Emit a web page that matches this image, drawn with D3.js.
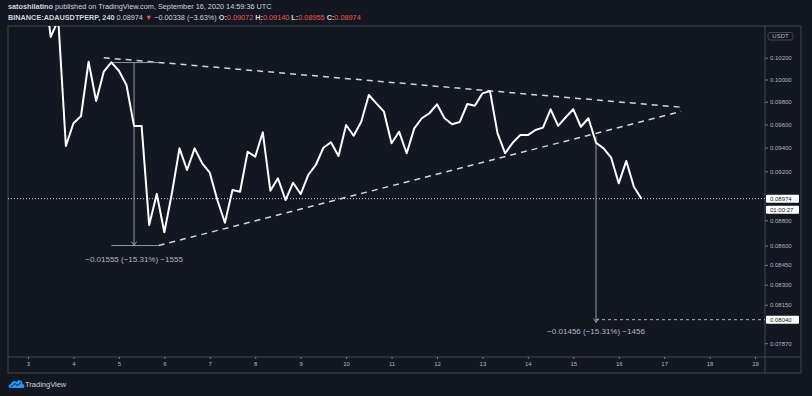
<!DOCTYPE html>
<html>
<head>
<meta charset="utf-8">
<script src="https://cdn.jsdelivr.net/npm/d3@7"></script>
<style>
  body { margin: 0; background: #131722; }
  text { font-family: "Liberation Sans", Arial, sans-serif; }
</style>
</head>
<body>
<div id="chart"></div>
<script>
// SVG area
let svgWidth = 812;
let svgHeight = 396;

// plot pane margins (right side holds the price axis)
let margin = { top: 26, right: 47, bottom: 39, left: 8 };
let width = svgWidth - margin.left - margin.right;
let height = svgHeight - margin.top - margin.bottom;

// 4h closes of BINANCE:ADAUSDTPERP, first candle Sept 3 08:00 UTC
let firstCandle = Date.UTC(2020, 8, 3, 8);
let closes = [
  0.1096, 0.10396, 0.10555, 0.09414, 0.09610, 0.09674, 0.10163, 0.09807,
  0.10071, 0.10157, 0.10080, 0.09950, 0.09587, 0.09587, 0.08762, 0.09012,
  0.08704, 0.09018, 0.09394, 0.09211, 0.09394, 0.09267, 0.09188, 0.08963,
  0.08780, 0.09045, 0.09031, 0.09365, 0.09323, 0.09532, 0.09039, 0.09142,
  0.08963, 0.09105, 0.09012, 0.09169, 0.09253, 0.09399, 0.09446, 0.09329,
  0.09595, 0.09502, 0.09624, 0.09860, 0.09786, 0.09712, 0.09437, 0.09537,
  0.09352, 0.09566, 0.09654, 0.09698, 0.09777, 0.09654, 0.09601, 0.09621,
  0.09780, 0.09765, 0.09875, 0.09896, 0.09523, 0.09352, 0.09442, 0.09508,
  0.09508, 0.09552, 0.09572, 0.09733, 0.09587, 0.09663, 0.09733, 0.09580,
  0.09654, 0.09442, 0.09394, 0.09314, 0.09100, 0.09287, 0.09072, 0.08974
];

// price axis tick values (the ones hidden under the boxes are left out)
let yTicks = [0.102, 0.100, 0.098, 0.096, 0.094, 0.092,
  0.088, 0.086, 0.0845, 0.083, 0.0815, 0.0787];

// triangle (dashed) drawn on the chart
let upperLine = [[Date.UTC(2020, 8, 4, 16), 0.10200], [Date.UTC(2020, 8, 17, 9), 0.09751]];
let lowerLine = [[Date.UTC(2020, 8, 5, 21), 0.08600], [Date.UTC(2020, 8, 17, 9), 0.09714]];

// price range measurements
let measure1 = { from: Date.UTC(2020, 8, 4, 20), to: Date.UTC(2020, 8, 5, 21), mid: Date.UTC(2020, 8, 5, 8),
  top: 0.10155, bottom: 0.08600, label: "\u22120.01555 (\u221215.31%) \u22121555" };
let measure2 = { mid: Date.UTC(2020, 8, 15, 12), top: 0.09496, bottom: 0.08040,
  label: "\u22120.01456 (\u221215.31%) \u22121456" };

let lastPrice = 0.08974;
let countdown = "01:00:27";

let svg = d3.select("#chart")
  .append("svg")
  .attr("width", svgWidth)
  .attr("height", svgHeight)
  .style("background", "#131722");

// header
let head1 = svg.append("text").attr("x", 8).attr("y", 9)
  .attr("font-size", "7.3px").attr("fill", "#d1d4dc");
head1.append("tspan").attr("font-weight", "bold").text("satoshilatino");
head1.append("tspan").text(" published on TradingView.com, September 16, 2020 14:59:36 UTC");

let head2 = svg.append("text").attr("x", 8).attr("y", 20)
  .attr("font-size", "7.3px").attr("fill", "#d1d4dc");
head2.append("tspan").attr("font-weight", "bold").text("BINANCE:ADAUSDTPERP, 240");
head2.append("tspan").text(" 0.08974 ");
head2.append("tspan").attr("fill", "#ef5350").text("\u25BC");
head2.append("tspan").text(" \u22120.00338 (\u22123.63%) ");
[["O:", "0.09072"], ["H:", "0.09140"], ["L:", "0.08955"], ["C:", "0.08974"]].forEach(function (p) {
  head2.append("tspan").attr("font-weight", "bold").text(p[0]);
  head2.append("tspan").attr("fill", "#ef5350").text(p[1] + " ");
});

// frame
let frameColor = "#434651";
svg.append("rect")
  .attr("x", margin.left).attr("y", margin.top)
  .attr("width", svgWidth - margin.left - 11).attr("height", height + 16)
  .attr("fill", "none").attr("stroke", frameColor);
svg.append("line")
  .attr("x1", margin.left).attr("x2", svgWidth - 11)
  .attr("y1", margin.top + height).attr("y2", margin.top + height)
  .attr("stroke", frameColor);
svg.append("line")
  .attr("x1", margin.left + width).attr("x2", margin.left + width)
  .attr("y1", margin.top).attr("y2", margin.top + height + 16)
  .attr("stroke", frameColor);

let chartGroup = svg.append("g")
  .attr("transform", `translate(${margin.left}, ${margin.top})`);

// scales
let xScale = d3.scaleUtc()
  .domain([Date.UTC(2020, 8, 2, 13, 26), Date.UTC(2020, 8, 19, 5, 15)])
  .range([0, width]);
let yScale = d3.scaleLog()
  .domain([0.07772, 0.10498])
  .range([height, 0]);

// x axis
let xAxis = chartGroup.append("g")
  .attr("transform", `translate(0, ${height})`)
  .call(d3.axisBottom(xScale).ticks(d3.utcDay.every(1)).tickFormat(d3.utcFormat("%-d")).tickSize(2).tickPadding(3));
xAxis.select(".domain").remove();
xAxis.selectAll("line").attr("stroke", "#787b86");
xAxis.selectAll("text").attr("fill", "#b2b5be").attr("font-size", "6px")
  .attr("font-family", "Liberation Sans, Arial, sans-serif");

// y axis
let yAxis = chartGroup.append("g")
  .attr("transform", `translate(${width}, 0)`)
  .call(d3.axisRight(yScale).tickValues(yTicks).tickFormat(d3.format(".5f")).tickSize(3).tickPadding(2));
yAxis.select(".domain").remove();
yAxis.selectAll("line").attr("stroke", "#787b86");
yAxis.selectAll("text").attr("fill", "#b2b5be").attr("font-size", "6px")
  .attr("font-family", "Liberation Sans, Arial, sans-serif");

// clip for the pane
svg.append("defs").append("clipPath").attr("id", "pane")
  .append("rect").attr("width", width).attr("height", height);
let pane = chartGroup.append("g").attr("clip-path", "url(#pane)");

// last price dotted line
pane.append("line")
  .attr("x1", 0).attr("x2", width)
  .attr("y1", yScale(lastPrice)).attr("y2", yScale(lastPrice))
  .attr("stroke", "#d1d4dc").attr("stroke-width", 1)
  .attr("stroke-dasharray", "1,2");

// triangle
let seg = d3.line().x((d) => xScale(d[0])).y((d) => yScale(d[1]));
[upperLine, lowerLine].forEach(function (l) {
  pane.append("path")
    .attr("d", seg(l))
    .attr("fill", "none")
    .attr("stroke", "#d1d4dc")
    .attr("stroke-width", 1.5)
    .attr("stroke-dasharray", "6,5");
});

// measurement 1
let mColor = "#9598a1";
[measure1.top, measure1.bottom].forEach(function (p) {
  pane.append("line")
    .attr("x1", xScale(measure1.from)).attr("x2", xScale(measure1.to))
    .attr("y1", yScale(p)).attr("y2", yScale(p))
    .attr("stroke", mColor);
});
function arrowLine(t, top, bottom) {
  let x = xScale(t), y0 = yScale(top), y1 = yScale(bottom);
  pane.append("line").attr("x1", x).attr("x2", x).attr("y1", y0).attr("y2", y1)
    .attr("stroke", mColor);
  pane.append("path")
    .attr("d", `M${x - 2.5},${y1 - 4}L${x},${y1}L${x + 2.5},${y1 - 4}`)
    .attr("fill", "none").attr("stroke", mColor);
}
arrowLine(measure1.mid, measure1.top, measure1.bottom);
pane.append("text")
  .attr("x", xScale(measure1.mid)).attr("y", yScale(measure1.bottom) + 16)
  .attr("text-anchor", "middle").attr("font-size", "8px").attr("fill", "#b2b5be")
  .text(measure1.label);

// measurement 2 (target)
arrowLine(measure2.mid, measure2.top, measure2.bottom - 0.0002);
pane.append("line")
  .attr("x1", xScale(measure2.mid)).attr("x2", width)
  .attr("y1", yScale(measure2.bottom)).attr("y2", yScale(measure2.bottom))
  .attr("stroke", "#b2b5be").attr("stroke-dasharray", "3,3");
pane.append("text")
  .attr("x", xScale(measure2.mid)).attr("y", yScale(measure2.bottom) + 14)
  .attr("text-anchor", "middle").attr("font-size", "8px").attr("fill", "#b2b5be")
  .text(measure2.label);

// price line
let priceLine = d3.line()
  .x((d, i) => xScale(firstCandle + i * 4 * 3600 * 1000))
  .y((d) => yScale(d));
pane.append("path")
  .datum(closes)
  .attr("d", priceLine)
  .attr("fill", "none")
  .attr("stroke", "#ffffff")
  .attr("stroke-width", 2)
  .attr("stroke-linejoin", "round");

// axis boxes
function axisBox(y, label, fill, color) {
  chartGroup.append("rect")
    .attr("x", width + 1).attr("y", y - 4).attr("width", 33).attr("height", 8)
    .attr("fill", fill).attr("rx", 1);
  chartGroup.append("text")
    .attr("x", width + 5).attr("y", y + 2.2)
    .attr("font-size", "6px").attr("fill", color)
    .text(label);
}
axisBox(yScale(lastPrice), "0.08974", "#ffffff", "#131722");
axisBox(yScale(lastPrice) + 11, countdown, "#ffffff", "#131722");
axisBox(yScale(measure2.bottom), "0.08040", "#ffffff", "#131722");

// currency label
chartGroup.append("rect")
  .attr("x", width + 3).attr("y", 6.5).attr("width", 25).attr("height", 7.5)
  .attr("fill", "#131722").attr("stroke", "#434651").attr("rx", 2);
chartGroup.append("text")
  .attr("x", width + 15.5).attr("y", 12.3).attr("text-anchor", "middle")
  .attr("font-size", "6px").attr("fill", "#b2b5be").text("USDT");

// TradingView logo
let logo = svg.append("g").attr("transform", "translate(9, 379)");
logo.append("path")
  .attr("d", "M1,9 C-1,9 -1,5 2,5 C2,2 6,1 7.5,3 C9,0 14,1 13.5,5 C16,5 16,9 14,9 Z")
  .attr("fill", "#2196f3");
logo.append("path")
  .attr("d", "M2,8 L6,4.5 L8.5,6.5 L12,3.5")
  .attr("fill", "none").attr("stroke", "#131722").attr("stroke-width", 1);
svg.append("text").attr("x", 25).attr("y", 387)
  .attr("font-size", "7.5px").attr("fill", "#d1d4dc").text("TradingView");
</script>
</body>
</html>
